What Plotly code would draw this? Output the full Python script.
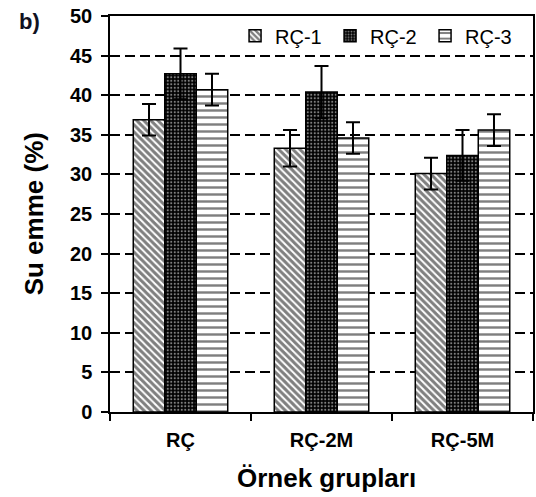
import plotly.graph_objects as go

categories = ["RÇ", "RÇ-2M", "RÇ-5M"]
series_names = ["RÇ-1", "RÇ-2", "RÇ-3"]
rc1_values = [36.9, 33.3, 30.1]
rc2_values = [42.7, 40.4, 32.4]
rc3_values = [40.7, 34.6, 35.6]
rc1_errors = [2.0, 2.3, 2.0]
rc2_errors = [3.2, 3.3, 3.2]
rc3_errors = [2.0, 2.0, 2.0]
y_ticks = [0, 5, 10, 15, 20, 25, 30, 35, 40, 45, 50]

FONT = "Liberation Sans, Arial, sans-serif"

patterns = [
    dict(shape="\\", fgcolor="black", bgcolor="white", size=5, solidity=0.6),
    dict(shape=".", fgcolor="white", bgcolor="black", size=3.5, solidity=0.3),
    dict(shape="-", fgcolor="black", bgcolor="white", size=7, solidity=0.35),
]
values = [rc1_values, rc2_values, rc3_values]
errors = [rc1_errors, rc2_errors, rc3_errors]

fig = go.Figure()
for name, vals, errs, pat in zip(series_names, values, errors, patterns):
    fig.add_trace(go.Bar(
        x=categories, y=vals, name=name,
        marker=dict(color=pat["bgcolor"], line=dict(color="black", width=1.5), pattern=pat),
        error_y=dict(type="data", array=errs, visible=True, color="black", thickness=2, width=7),
    ))

# invisible overlay axis to draw the inner half of the crossing y ticks
fig.add_trace(go.Scatter(x=[None], y=[None], yaxis="y2", showlegend=False, hoverinfo="skip"))

fig.update_layout(
    width=536, height=497,
    margin=dict(l=110, r=1, t=16, b=85),
    paper_bgcolor="white", plot_bgcolor="white",
    barmode="group", bargap=0.33, bargroupgap=0,
    font=dict(family=FONT, color="black"),
    showlegend=True,
    legend=dict(orientation="h", x=(522 - 110) / 425, xanchor="right", y=0.95, yanchor="middle",
                font=dict(family=FONT, size=20, color="black"),
                bgcolor="rgba(0,0,0,0)", itemwidth=30, tracegroupgap=0,
                entrywidth=50, entrywidthmode="pixels"),
    xaxis=dict(
        type="category", tickson="boundaries", ticks="outside", ticklen=7, tickwidth=1.5,
        tickcolor="black", showline=True, linecolor="black", linewidth=1.5, mirror=True,
        showgrid=False, tickfont=dict(family=FONT, size=20, color="black", weight="bold"),
        ticklabelstandoff=9,
    ),
    yaxis=dict(
        range=[0, 50], tickvals=y_ticks, ticks="outside", ticklen=7, tickwidth=1.5,
        tickcolor="black", showline=True, linecolor="black", linewidth=1.5, mirror=True,
        showgrid=True, gridcolor="black", gridwidth=1.5, griddash="10px,5px",
        zeroline=False, tickfont=dict(family=FONT, size=20, color="black", weight="bold"),
        ticklabelstandoff=5,
    ),
    yaxis2=dict(
        range=[0, 50], tickvals=y_ticks, ticks="inside", ticklen=6, tickwidth=1.5,
        tickcolor="black", overlaying="y", side="left", showticklabels=False,
        showgrid=False, zeroline=False, showline=False,
    ),
    annotations=[
        dict(text="b)", xref="paper", yref="paper", x=(17 - 110) / 425, y=(412 - 22) / 396,
             xanchor="left", yanchor="middle", showarrow=False,
             font=dict(family=FONT, size=22, color="#111122", weight="bold")),
        dict(text="Su emme (%)", xref="paper", yref="paper", x=(34 - 110) / 425, y=0.5,
             xanchor="center", yanchor="middle", textangle=-90, showarrow=False,
             font=dict(family=FONT, size=26, color="black", weight="bold")),
        dict(text="Örnek grupları", xref="paper", yref="paper", x=(327.5 - 110) / 425,
             y=(412 - 478) / 396, xanchor="center", yanchor="middle", showarrow=False,
             font=dict(family=FONT, size=26, color="black", weight="bold")),
    ],
)

fig.write_html("out.html", config={"displayModeBar": False},
               post_script="document.body.style.margin='0';")
